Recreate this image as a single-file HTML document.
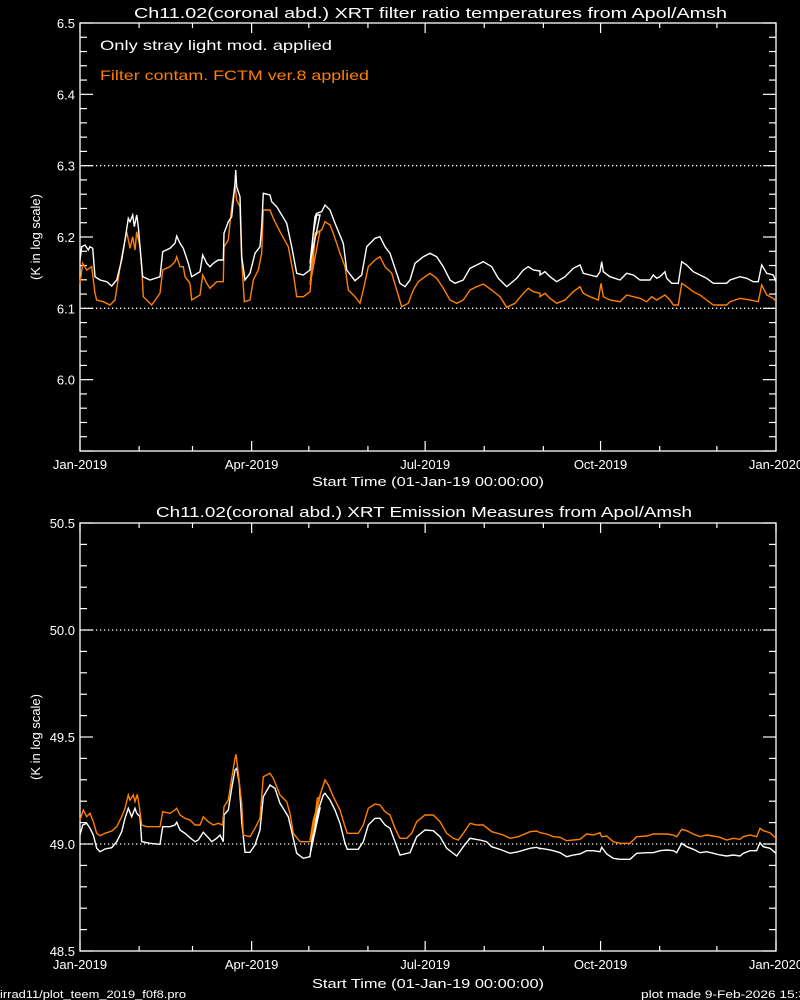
<!DOCTYPE html>
<html><head><meta charset="utf-8"><style>
html,body{margin:0;padding:0;background:#000;}
svg{display:block;}
text{font-family:"Liberation Sans",sans-serif;fill:#fff;font-weight:normal;}
</style></head><body>
<svg id="s" width="800" height="1000" viewBox="0 0 800 1000" xmlns="http://www.w3.org/2000/svg">
<rect width="800" height="1000" fill="#000"/>
<g id="g"></g>
<text x="134" y="18" font-size="15" textLength="593" lengthAdjust="spacingAndGlyphs">Ch11.02(coronal abd.) XRT filter ratio temperatures from Apol/Amsh</text>
<text x="100" y="50" font-size="14" textLength="232" lengthAdjust="spacingAndGlyphs">Only stray light mod. applied</text>
<text x="100" y="80" font-size="14" textLength="269" lengthAdjust="spacingAndGlyphs" style="fill:#ff7f00">Filter contam. FCTM ver.8 applied</text>
<text x="312" y="486" font-size="13" textLength="232" lengthAdjust="spacingAndGlyphs">Start Time (01-Jan-19 00:00:00)</text>
<text x="156" y="517" font-size="15" textLength="536" lengthAdjust="spacingAndGlyphs">Ch11.02(coronal abd.) XRT Emission Measures from Apol/Amsh</text>
<text x="312" y="988" font-size="13" textLength="232" lengthAdjust="spacingAndGlyphs">Start Time (01-Jan-19 00:00:00)</text>
<text x="0" y="998" font-size="11" textLength="186" lengthAdjust="spacingAndGlyphs">irrad11/plot_teem_2019_f0f8.pro</text>
<text x="641" y="998" font-size="11" textLength="165" lengthAdjust="spacingAndGlyphs">plot made  9-Feb-2026 15:3</text>
<text transform="translate(40,237) rotate(-90)" font-size="13" text-anchor="middle">(K in log scale)</text>
<text transform="translate(40,737) rotate(-90)" font-size="13" text-anchor="middle">(K in log scale)</text>
</svg>
<script>
var NS="http://www.w3.org/2000/svg",g=document.getElementById('g');
function el(t,a,txt){var e=document.createElementNS(NS,t);for(var k in a)e.setAttribute(k,a[k]);if(txt!=null)e.textContent=txt;g.appendChild(e);return e;}
var L=80,R=776;
function panel(top,bot,y0,y1,maj,nmin,skipFirst,dots){
 el('rect',{x:L,y:top,width:R-L,height:bot-top,fill:'none',stroke:'#fff','stroke-width':1.3});
 var sc=(bot-top)/(y1-y0);
 var n=Math.round((y1-y0)/maj*nmin);
 for(var i=0;i<=n;i++){var v=y0+i*maj/nmin,y=bot-(v-y0)*sc,isM=i%nmin==0,len=isM?13:7;
  el('line',{x1:L,y1:y,x2:L+len,y2:y,stroke:'#fff','stroke-width':1.2});
  el('line',{x1:R,y1:y,x2:R-len,y2:y,stroke:'#fff','stroke-width':1.2});
  if(isM && !(skipFirst && i==0)) el('text',{x:75,y:y+5,'font-size':13,'text-anchor':'end'},v.toFixed(1));
 }
 var days=[0,31,59,90,120,151,181,212,243,273,304,334,365];
 days.forEach(function(d,i){var x=L+d*(R-L)/365,len=(i%3==0)?10:5;
  el('line',{x1:x,y1:bot,x2:x,y2:bot-len,stroke:'#fff','stroke-width':1.2});
  el('line',{x1:x,y1:top,x2:x,y2:top+len,stroke:'#fff','stroke-width':1.2});});
 var nm=['Jan-2019','Apr-2019','Jul-2019','Oct-2019','Jan-2020'];
 [0,90,181,273,365].forEach(function(d,i){var x=L+d*(R-L)/365;
  el('text',{x:x,y:bot+18,'font-size':13,'text-anchor':'middle'},nm[i]);});
 dots.forEach(function(v){var y=bot-(v-y0)*sc;el('line',{x1:L,y1:y,x2:R,y2:y,stroke:'#fff','stroke-width':1.3,'stroke-dasharray':'1.3 2.7'});});
}
panel(23,451,5.9,6.5,0.1,5,true,[6.3,6.1]);
panel(523,951,48.5,50.5,0.5,5,false,[50.0,49.0]);
function seg(ox,oy,arr,maxzx){var o=[];for(var i=0;i<arr.length;i+=2){if(maxzx!=null&&arr[i]>maxzx)break;o.push((ox+arr[i]/3).toFixed(1)+','+(oy+arr[i+1]/3).toFixed(1));}return o;}
function line(pts,c){el('polyline',{points:pts.join(' '),fill:'none',stroke:c,'stroke-width':1.4,'stroke-linejoin':'miter'});}
var OR='#ff7f00';
var tw=seg(80,160,[0,300,5,260,15,255,25,270,30,260,38,265,45,350,60,360,80,365,95,378,110,360,125,300,135,240,145,175,150,185,158,165,163,200,170,165,175,200,180,260,185,320,188,350,210,360,240,350,248,275,270,265,285,250,290,228,300,250,310,265,325,310,335,350,360,335,368,285,380,310,390,320,400,310,415,300,430,300,432,220,445,185,455,170,465,70,467,30,470,80,480,110,485,290,495,360,510,340,525,280,540,260,545,200,550,100,570,105,575,125,590,140,620,190,635,260,650,340,670,345,690,330,700,220,710,165,720,165])
 .concat(seg(310,190,[0,220,15,80,20,70,35,65,45,45,60,60,75,100,100,160,110,240,135,272,155,255,170,170,195,145,210,140,225,170,240,190,255,235,270,280,285,290,300,270,315,220,340,200,360,190,380,200,400,230,420,270,435,280,460,270,480,235,500,225,520,215,545,230,565,265,590,290,620,265,640,240,655,230,670,240,690,243],690))
 .concat(seg(540,240,[0,105,15,95,30,110,50,125,75,110,100,85,120,75,130,100,150,105,170,110,180,95,185,65,190,95,210,110,240,120,260,100,280,105,300,120,330,120,340,105,350,115,360,110,375,95,380,115,395,130,415,130,425,65,440,75,460,95,480,105,500,115,520,130,560,130,570,120,600,110,620,115,640,125,655,125,665,75,680,100,700,105,708,125]));
var to=seg(80,160,[0,370,8,310,20,330,35,320,45,400,50,420,70,425,90,435,105,420,125,290,140,215,150,265,158,230,165,270,170,215,180,260,185,320,190,410,215,435,240,400,248,330,270,320,285,305,290,290,300,320,310,320,315,350,330,370,335,420,360,405,368,345,380,370,390,385,400,375,410,365,430,365,432,260,445,240,455,140,465,75,470,120,480,140,485,300,493,425,510,420,520,360,535,330,545,280,550,150,570,150,580,175,600,215,625,260,640,340,650,410,670,410,690,395,700,300,705,230,715,215,720,212])
 .concat(seg(310,190,[0,285,10,180,15,130,35,120,45,95,60,105,70,130,90,190,105,230,115,300,135,320,150,340,160,300,175,230,195,210,210,200,225,230,245,250,260,300,275,350,295,340,310,300,325,275,345,260,360,250,380,265,400,295,420,330,440,340,460,330,480,300,500,290,520,282,545,300,570,320,590,352,615,340,640,310,655,295,670,305,690,310],690))
 .concat(seg(540,240,[0,170,15,160,30,175,50,190,75,180,100,155,120,140,130,160,150,170,175,180,183,130,190,170,210,180,240,185,260,165,280,170,300,175,320,185,335,170,350,180,375,165,390,180,400,195,415,195,425,130,440,140,460,155,480,165,500,180,520,195,560,195,570,185,600,175,630,180,655,185,665,135,680,165,700,175,708,185]));
line(to,OR);line(tw,'#fff');
var bo=seg(80,745,[0,225,10,195,20,215,30,205,40,230,50,265,60,272,75,265,95,258,110,245,125,215,135,190,145,150,150,165,160,150,165,170,172,148,178,185,185,240,200,245,240,245,248,200,270,205,285,195,290,190,300,210,315,220,330,225,345,240,360,240,370,215,385,230,400,240,415,235,428,240,432,185,445,165,455,100,465,40,468,28,475,85,485,175,490,270,510,275,525,250,540,220,550,95,570,85,580,100,600,150,620,170,630,205,640,265,660,290,690,290,700,255,712,160,720,155])
 .concat(seg(310,770,[0,210,10,150,20,115,30,75,45,30,55,45,70,80,90,120,105,170,112,190,145,190,160,165,175,115,195,102,210,105,225,125,240,135,255,175,270,205,290,205,305,190,320,155,345,135,370,135,390,155,410,190,430,205,445,210,460,190,480,160,500,165,520,165,545,185,580,195,600,205,625,200,660,185,680,183,690,188],690))
 .concat(seg(540,810,[0,68,20,72,40,80,60,82,80,92,100,90,120,88,140,72,160,75,180,68,185,80,200,78,220,95,240,100,270,100,290,80,320,78,340,72,360,72,380,72,400,75,410,80,425,58,440,62,460,72,480,80,500,75,520,78,540,82,560,90,580,85,600,88,610,80,630,75,650,80,660,55,670,62,690,68,708,85]));
var bw=seg(80,745,[0,270,8,240,20,235,30,250,40,270,50,310,60,320,75,312,95,308,110,290,125,260,135,220,145,190,155,215,165,190,170,205,180,215,185,290,210,295,240,298,248,245,270,245,285,240,290,232,300,255,315,265,330,278,345,290,355,285,370,262,385,278,395,290,410,280,420,270,430,290,432,210,445,195,455,130,465,75,470,70,478,115,485,230,495,322,510,322,525,300,540,255,550,155,570,120,585,130,600,175,625,215,640,280,650,325,670,340,690,335,700,250,712,195,720,190])
 .concat(seg(310,770,[0,255,10,200,25,120,40,75,45,70,60,90,75,120,90,160,105,220,112,238,145,238,160,215,175,165,195,145,210,145,225,165,240,175,255,215,270,255,300,248,320,200,345,180,370,182,390,200,410,235,440,258,460,230,480,205,510,210,530,215,545,230,575,240,600,250,625,245,660,235,680,232,690,236],690))
 .concat(seg(540,810,[0,115,20,118,40,122,60,128,80,140,100,135,120,132,140,122,160,122,180,125,185,112,200,132,220,145,240,148,270,148,290,130,320,128,340,128,360,122,380,120,400,122,410,128,425,100,440,110,460,118,480,128,500,125,520,130,540,135,560,138,580,135,600,138,610,130,630,122,650,122,660,98,670,110,690,115,708,130]));
line(bw,'#fff');line(bo,OR);
</script>
</body></html>
